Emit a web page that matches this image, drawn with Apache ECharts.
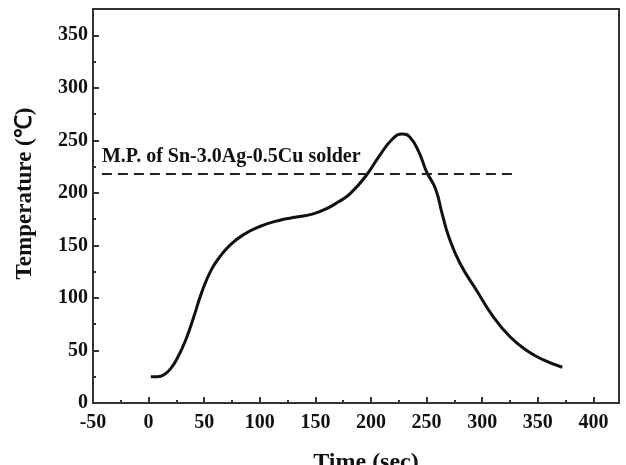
<!DOCTYPE html>
<html>
<head>
<meta charset="utf-8">
<script src="https://cdn.jsdelivr.net/npm/echarts@6/dist/echarts.min.js"></script>
<style>
  html, body { margin: 0; padding: 0; background: #fff; }
  #chart { width: 626px; height: 465px; }
</style>
</head>
<body>
<div id="chart"></div>
<script>
// reflow profile
const timeData = [2, 8, 14, 20, 26, 33, 40, 48, 56, 64, 73, 85, 100, 118, 133, 148, 160, 170, 181, 196, 208, 220, 228, 235, 243, 250, 258, 264, 270, 280, 295, 310, 325, 340, 355, 372]
const tempData = [25, 25, 27, 33, 43, 59, 80, 106, 126, 139, 150, 160, 168, 174, 177, 180, 185, 191, 199, 217, 236, 252, 256, 253, 239, 220, 204, 180, 158, 133, 107, 82, 63, 50, 41, 34]

// melting point line
const mpLabel = 'M.P. of Sn-3.0Ag-0.5Cu solder'
const mpTemp = 218
const mpRange = [-42, 327]

const xTicks = { min: -50, max: 423, interval: 50 }
const yTicks = { min: 0, max: 375, interval: 50 }

const chart = echarts.init(document.getElementById('chart'))
const font = 'Liberation Serif'
const axisColor = '#333'

const option = {
  animation: false,
  grid: {
    left: 93,
    top: 9,
    right: 7,
    bottom: 62,
    show: true,
    borderColor: axisColor,
    borderWidth: 2,
    containLabel: false,
    outerBoundsMode: 'none'
  },
  xAxis: {
    type: 'value',
    min: xTicks.min,
    max: xTicks.max,
    interval: xTicks.interval,
    name: 'Time (sec)',
    nameLocation: 'middle',
    nameGap: 48,
    nameTextStyle: { fontFamily: font, fontWeight: 'bold', fontSize: 24, color: '#111', padding: [0, 0, 0, 20] },
    axisLine: { onZero: false, lineStyle: { color: axisColor, width: 2 } },
    axisTick: { inside: true, length: 6, lineStyle: { color: axisColor, width: 2 } },
    minorTick: { show: true, splitNumber: 2, length: 3, lineStyle: { color: axisColor, width: 2 } },
    splitLine: { show: false },
    axisLabel: { fontFamily: font, fontWeight: 'bold', fontSize: 20, color: '#111', margin: 10, showMaxLabel: false }
  },
  yAxis: {
    type: 'value',
    min: yTicks.min,
    max: yTicks.max,
    interval: yTicks.interval,
    name: 'Temperature (℃)',
    nameLocation: 'middle',
    nameGap: 56,
    nameTextStyle: { fontFamily: font, fontWeight: 'bold', fontSize: 23, color: '#111', padding: [0, 0, 0, 25] },
    axisLine: { onZero: false, lineStyle: { color: axisColor, width: 2 } },
    axisTick: { inside: true, length: 6, lineStyle: { color: axisColor, width: 2 } },
    minorTick: { show: true, splitNumber: 2, length: 3, lineStyle: { color: axisColor, width: 2 } },
    splitLine: { show: false },
    axisLabel: { fontFamily: font, fontWeight: 'bold', fontSize: 20, color: '#111', margin: 5, showMaxLabel: false }
  },
  series: [
    {
      type: 'line',
      data: timeData.map((t, i) => [t, tempData[i]]),
      smooth: 0.5,
      showSymbol: false,
      lineStyle: { color: '#111', width: 3 },
      markLine: {
        silent: true,
        symbol: 'none',
        lineStyle: { color: '#222', width: 2, type: [10, 6] },
        label: {
          show: true,
          position: 'insideStartTop',
          formatter: mpLabel,
          fontFamily: font,
          fontWeight: 'bold',
          fontSize: 20,
          color: '#111',
          distance: [0, 7]
        },
        data: [[{ coord: [mpRange[0], mpTemp] }, { coord: [mpRange[1], mpTemp] }]]
      }
    }
  ]
}

chart.setOption(option)
</script>
</body>
</html>
